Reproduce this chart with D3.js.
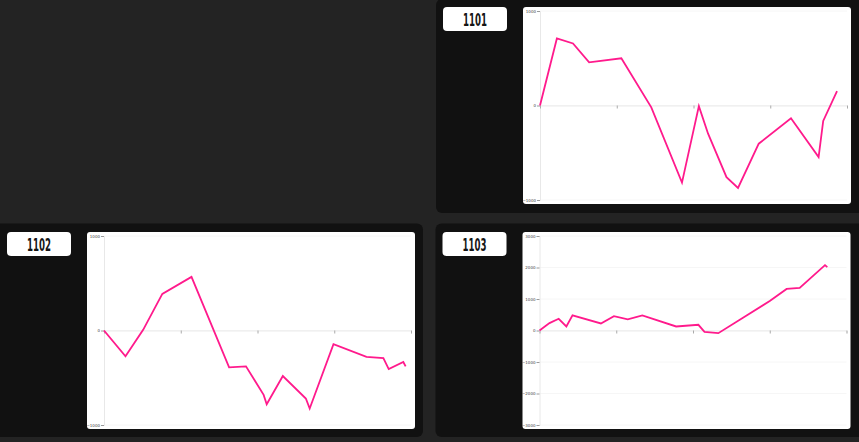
<!DOCTYPE html>
<html>
<head>
<meta charset="utf-8">
<script src="https://cdn.jsdelivr.net/npm/d3@7"></script>
<style>
  html, body { margin: 0; padding: 0; background: #232323; overflow: hidden; }
  svg { display: block; }
</style>
</head>
<body>
<svg id="board" width="859" height="442"></svg>
<script>
// panel titles
const titles = ['1101', '1102', '1103'];

// x positions (time units 0..40) and values for each series
const x1101 = [0, 2.2, 4.3, 6.4, 10.6, 14.5, 18.5, 20.7, 21.9, 24.3, 25.8, 28.5, 32.7, 36.3, 36.9, 38.7];
const y1101 = [0, 709, 656, 457, 500, -20, -816, -7, -298, -759, -872, -404, -135, -546, -163, 152];

const x1102 = [0, 2.8, 5.1, 7.6, 11.4, 16.3, 18.5, 20.8, 21.2, 23.3, 26.3, 26.8, 29.9, 34.2, 36.4, 37.1, 39.0, 39.3];
const y1102 = [0, -273, 7, 387, 567, -390, -379, -681, -780, -482, -720, -826, -145, -280, -291, -408, -333, -379];

const x1103 = [0, 1.3, 2.5, 3.5, 4.3, 8.0, 9.7, 11.5, 13.4, 17.8, 20.7, 21.5, 23.3, 30.0, 32.2, 33.9, 37.2, 37.5];
const y1103 = [0, 234, 372, 128, 479, 223, 457, 351, 479, 128, 181, -43, -85, 936, 1319, 1351, 2074, 2011];

// axis tick values
const xTicks = [0, 10, 20, 30, 40];
const yTicksSmall = [-1000, 0, 1000];
const yTicksLarge = [-3000, -2000, -1000, 0, 1000, 2000, 3000];

const panels = [
  { title: titles[0], xs: x1101, ys: y1101, yTicks: yTicksSmall, x: 436, y: -1, w: 440, h: 214 },
  { title: titles[1], xs: x1102, ys: y1102, yTicks: yTicksSmall, x: -8, y: 223.5, w: 431, h: 213.5 },
  { title: titles[2], xs: x1103, ys: y1103, yTicks: yTicksLarge, x: 435.5, y: 223.5, w: 440, h: 213.5 }
];

const svg = d3.select('#board');
const chartW = 328, chartH = 197;
const margin = { top: 4, right: 4, bottom: 4, left: 17 };

panels.forEach(p => {
  const g = svg.append('g').attr('transform', `translate(${p.x},${p.y})`);
  const innerX = p.x < 0 ? 8 : 0;
  const top = p.y < 0 ? 8 : 8.5;

  g.append('rect')
    .attr('width', p.w).attr('height', p.h)
    .attr('rx', 6)
    .attr('fill', '#111111');

  // title badge
  const badge = g.append('g').attr('transform', `translate(${innerX + 7},${top})`);
  badge.append('rect')
    .attr('width', 64).attr('height', 24)
    .attr('rx', 4)
    .attr('fill', '#ffffff');
  badge.append('text')
    .attr('x', 32).attr('y', 18.5)
    .attr('text-anchor', 'middle')
    .attr('textLength', 24)
    .attr('lengthAdjust', 'spacingAndGlyphs')
    .style('font-family', '"DejaVu Sans Condensed", "Liberation Sans Narrow", "DejaVu Sans", sans-serif')
    .style('font-weight', 'bold')
    .style('font-size', '17px')
    .style('fill', '#151515')
    .text(p.title);

  // chart card
  const card = g.append('g').attr('transform', `translate(${innerX + 87},${top})`);
  card.append('rect')
    .attr('width', chartW).attr('height', chartH)
    .attr('rx', 3)
    .attr('fill', '#ffffff');

  const iw = chartW - margin.left - margin.right;
  const ih = chartH - margin.top - margin.bottom;

  const x = d3.scaleLinear().domain([0, 40]).range([0, iw]);
  const y = d3.scaleLinear().domain(d3.extent(p.yTicks)).range([ih, 0]);

  const plot = card.append('g').attr('transform', `translate(${margin.left},${margin.top})`);

  // faint horizontal grid
  plot.append('g')
    .selectAll('line')
    .data(p.yTicks)
    .join('line')
    .attr('x1', 0).attr('x2', iw)
    .attr('y1', d => y(d)).attr('y2', d => y(d))
    .attr('stroke', '#f6f6f6')
    .attr('stroke-width', 1);

  // y axis
  const yAxis = plot.append('g')
    .call(d3.axisLeft(y).tickValues(p.yTicks).tickSize(3).tickPadding(1).tickFormat(d3.format('d')));
  yAxis.select('.domain').attr('stroke', '#e8e8e8');
  yAxis.selectAll('.tick line').attr('stroke', '#999');
  yAxis.selectAll('text')
    .style('font-family', '"DejaVu Sans", sans-serif')
    .style('font-size', '4px')
    .style('fill', '#444');

  // x axis at zero, no labels
  const xAxis = plot.append('g')
    .attr('transform', `translate(0,${y(0)})`)
    .call(d3.axisBottom(x).tickValues(xTicks).tickSize(3).tickFormat(''));
  xAxis.select('.domain').attr('stroke', '#ebebeb');
  xAxis.selectAll('.tick line').attr('stroke', '#aaa');

  const pts = p.xs.map((v, i) => [v, p.ys[i]]);
  const line = d3.line().x(d => x(d[0])).y(d => y(d[1]));

  plot.append('path')
    .datum(pts)
    .attr('d', line)
    .attr('fill', 'none')
    .attr('stroke', '#ff1a8c')
    .attr('stroke-width', 1.8)
    .attr('stroke-linejoin', 'miter');
});
</script>
</body>
</html>
